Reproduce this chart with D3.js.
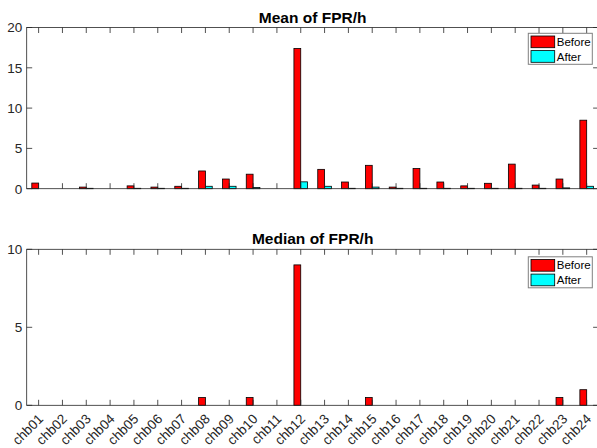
<!DOCTYPE html>
<html><head><meta charset="utf-8">
<script src="https://cdn.jsdelivr.net/npm/d3@7"></script>
<style>body{margin:0;background:#fff}svg{display:block;font-family:"Liberation Sans",Arial,Helvetica,sans-serif}</style>
</head><body><svg id="c" width="597" height="448"></svg>
<script>
const categories = ["chb01","chb02","chb03","chb04","chb05","chb06","chb07","chb08","chb09","chb10","chb11","chb12","chb13","chb14","chb15","chb16","chb17","chb18","chb19","chb20","chb21","chb22","chb23","chb24"];
const series = ["Before","After"];
const meanBefore = [0.7,0,0.2,0,0.35,0.2,0.3,2.2,1.2,1.8,0,17.4,2.4,0.83,2.9,0.2,2.5,0.83,0.35,0.67,3.05,0.45,1.2,8.5];
const meanAfter  = [0,0,0.05,0,0.05,0.05,0.05,0.3,0.3,0.15,0,0.85,0.3,0.05,0.2,0.05,0.05,0.05,0.05,0.05,0.05,0.05,0.1,0.3];
const medianBefore = [0,0,0,0,0,0,0,0.5,0,0.5,0,9,0,0,0.5,0,0,0,0,0,0,0,0.5,1];
const medianAfter  = [0,0,0,0,0,0,0,0,0,0,0,0,0,0,0,0,0,0,0,0,0,0,0,0];
const meanTicks = [0,5,10,15,20];
const medianTicks = [0,5,10];
const colors = {"Before":"#ff0000","After":"#00ffff"};

const svg = d3.select("#c");
const axisCol = "#262626";
const X0 = 26.7, X1 = 598.6;

function panel(top, bottom, ymax, ticks, before, after, title, showX){
  const g = svg.append("g");
  const x = d3.scaleBand().domain(categories).range([X0, X1]).paddingInner(0).paddingOuter(0);
  const bw = x.bandwidth();
  const sub = d3.scaleBand().domain(series).range([-0.286*bw, 0.286*bw]);
  const y = d3.scaleLinear().domain([0, ymax]).range([bottom, top]);
  const data = categories.map((c,i)=>({c, Before: before[i], After: after[i]}));
  const grp = g.selectAll("g.grp").data(data).join("g")
     .attr("transform", d=>`translate(${x(d.c)+bw/2},0)`);
  grp.selectAll("rect").data(d=>series.map(s=>({s, v:d[s]}))).join("rect")
     .attr("x", d=>sub(d.s)).attr("width", sub.bandwidth())
     .attr("y", d=>y(d.v)).attr("height", d=>Math.max(0, y(0)-y(d.v)))
     .attr("fill", d=>colors[d.s]).attr("stroke","#000").attr("stroke-width",0.8);
  g.append("rect").attr("x",X0).attr("y",top).attr("width",X1-X0).attr("height",bottom-top)
   .attr("fill","none").attr("stroke",axisCol).attr("stroke-width",0.8);
  const tl = 5.5;
  categories.forEach(c=>{
    const cx = x(c)+bw/2;
    g.append("line").attr("x1",cx).attr("x2",cx).attr("y1",bottom).attr("y2",bottom-tl).attr("stroke",axisCol).attr("stroke-width",0.8);
    g.append("line").attr("x1",cx).attr("x2",cx).attr("y1",top).attr("y2",top+tl).attr("stroke",axisCol).attr("stroke-width",0.8);
  });
  ticks.forEach(t=>{
    const ty = y(t);
    g.append("line").attr("x1",X0).attr("x2",X0+tl).attr("y1",ty).attr("y2",ty).attr("stroke",axisCol).attr("stroke-width",0.8);
    g.append("line").attr("x1",X1).attr("x2",X1-tl).attr("y1",ty).attr("y2",ty).attr("stroke",axisCol).attr("stroke-width",0.8);
    g.append("text").attr("x",X0-4.5).attr("y",ty).attr("dy","0.36em").attr("text-anchor","end")
     .attr("font-size",13.5).attr("fill",axisCol).text(t);
  });
  g.append("text").attr("x",(X0+X1)/2).attr("y",top-5).attr("text-anchor","middle")
   .attr("font-size",15.5).attr("font-weight","bold").attr("fill","#000").text(title);
  const lx = 528.3, ly = top + (showX?7.5:5.8), lw = 64, lh = 31;
  g.append("rect").attr("x",lx).attr("y",ly).attr("width",lw).attr("height",lh).attr("fill","#fff").attr("stroke","#808080").attr("stroke-width",1);
  series.forEach((s,i)=>{
    const ry = ly + 2.7 + i*14.6;
    g.append("rect").attr("x",lx+2.7).attr("y",ry).attr("width",23.7).attr("height",11.7)
     .attr("fill",colors[s]).attr("stroke","#000").attr("stroke-width",0.8);
    g.append("text").attr("x",lx+28.5).attr("y",ry+5.85).attr("dy","0.36em").attr("font-size",11.5).attr("fill","#000").text(s);
  });
  if(showX){
    categories.forEach(c=>{
      const cx = x(c)+bw/2;
      g.append("text").attr("transform",`translate(${cx+2},${bottom+11}) rotate(-45)`)
       .attr("text-anchor","end").attr("dy","0.36em").attr("font-size",13.5).attr("fill",axisCol).text(c);
    });
  }
}
panel(27.5, 188.7, 20, meanTicks, meanBefore, meanAfter, "Mean of FPR/h", false);
panel(249.3, 405.3, 10, medianTicks, medianBefore, medianAfter, "Median of FPR/h", true);
</script></body></html>
